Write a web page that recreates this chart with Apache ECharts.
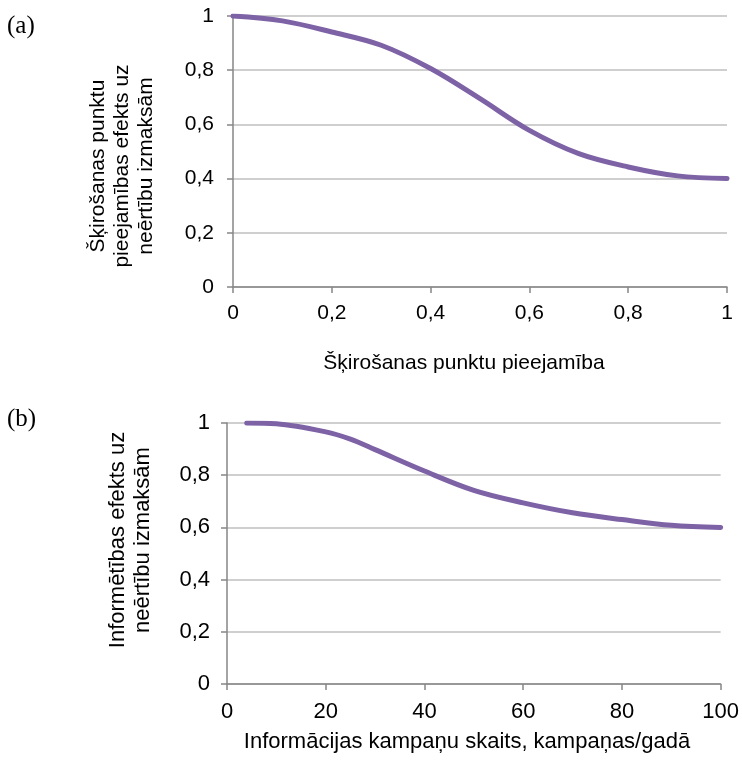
<!DOCTYPE html>
<html>
<head>
<meta charset="utf-8">
<script src="https://cdn.jsdelivr.net/npm/echarts@6/dist/echarts.min.js"></script>
<style>
html,body{margin:0;padding:0;background:#fff;}
#c{width:742px;height:763px;}
</style>
</head>
<body>
<div id="c"></div>
<script>
// Chart (a)
const xA = [0, 0.1, 0.2, 0.3, 0.4, 0.5, 0.6, 0.7, 0.8, 0.9, 1.0];
const yA = [1.0, 0.982, 0.941, 0.892, 0.806, 0.695, 0.578, 0.492, 0.443, 0.410, 0.400];
// Chart (b)
const xB = [4, 10, 20, 25, 30, 40, 50, 60, 70, 80, 90, 100];
const yB = [1.0, 0.997, 0.966, 0.938, 0.898, 0.816, 0.742, 0.694, 0.656, 0.630, 0.608, 0.600];

const titleA_y = 'Šķirošanas punktu\npieejamības efekts uz\nneērtību izmaksām';
const titleA_x = 'Šķirošanas punktu pieejamība';
const titleB_y = 'Informētības efekts uz\nneērtību izmaksām';
const titleB_x = 'Informācijas kampaņu skaits, kampaņas/gadā';

const FONT = '"Liberation Sans", Arial, sans-serif';
const SERIF = '"Liberation Serif", "Times New Roman", serif';
const axisGray = '#868686';
const gridGray = '#BFBFBF';
const lineColor = '#7E62A6';
const fsA = 21;
const fsB = 22;
const comma = v => String(v).replace('.', ',');

function xAxisCfg(gi, min, max, interval, fmt, fs, margin) {
  return {
    type: 'value', gridIndex: gi, min: min, max: max, interval: interval,
    axisLine: {show: true, onZero: false, lineStyle: {color: axisGray, width: 1.5}},
    axisTick: {show: true, inside: false, length: 6, lineStyle: {color: axisGray, width: 1.5}},
    splitLine: {show: false},
    axisLabel: {color: '#000', fontSize: fs, fontFamily: FONT, margin: margin, formatter: fmt}
  };
}
function yAxisCfg(gi, fs, margin) {
  return {
    type: 'value', gridIndex: gi, min: 0, max: 1, interval: 0.2,
    axisLine: {show: true, onZero: false, lineStyle: {color: axisGray, width: 1.5}},
    axisTick: {show: true, inside: false, length: 6, lineStyle: {color: axisGray, width: 1.5}},
    splitLine: {show: true, lineStyle: {color: gridGray, width: 1.5}},
    axisLabel: {color: '#000', fontSize: fs, fontFamily: FONT, margin: margin, formatter: v => comma(v)}
  };
}

const chart = echarts.init(document.getElementById('c'), null, {renderer: 'canvas'});
chart.setOption({
  animation: false,
  backgroundColor: '#fff',
  grid: [
    {left: 233, top: 16, right: 15, height: 271},
    {left: 227, top: 423, right: 19, height: 261}
  ],
  xAxis: [
    xAxisCfg(0, 0, 1, 0.2, v => comma(v), fsA, 16),
    xAxisCfg(1, 0, 100, 20, v => String(v), fsB, 17)
  ],
  yAxis: [
    yAxisCfg(0, fsA, 19),
    yAxisCfg(1, fsB, 17)
  ],
  series: [
    {
      type: 'line', xAxisIndex: 0, yAxisIndex: 0, showSymbol: false, smooth: 0.35,
      data: xA.map((x, i) => [x, yA[i]]),
      lineStyle: {color: lineColor, width: 5, cap: 'round', join: 'round'}
    },
    {
      type: 'line', xAxisIndex: 1, yAxisIndex: 1, showSymbol: false, smooth: 0.35,
      data: xB.map((x, i) => [x, yB[i]]),
      lineStyle: {color: lineColor, width: 5, cap: 'round', join: 'round'}
    }
  ],
  graphic: [
    {type: 'text', x: 7, y: 26, style: {text: '(a)', font: '25px ' + SERIF, fill: '#000', align: 'left', verticalAlign: 'middle'}},
    {type: 'text', x: 7, y: 419, style: {text: '(b)', font: '25px ' + SERIF, fill: '#000', align: 'left', verticalAlign: 'middle'}},
    {type: 'text', x: 122, y: 166, rotation: Math.PI / 2, style: {text: titleA_y, font: fsA + 'px ' + FONT, fill: '#000', align: 'center', verticalAlign: 'middle', lineHeight: 24}},
    {type: 'text', x: 464, y: 363, style: {text: titleA_x, font: fsA + 'px ' + FONT, fill: '#000', align: 'center', verticalAlign: 'middle'}},
    {type: 'text', x: 130, y: 540, rotation: Math.PI / 2, style: {text: titleB_y, font: fsB + 'px ' + FONT, fill: '#000', align: 'center', verticalAlign: 'middle', lineHeight: 25}},
    {type: 'text', x: 467, y: 742, style: {text: titleB_x, font: fsB + 'px ' + FONT, fill: '#000', align: 'center', verticalAlign: 'middle'}}
  ]
});
</script>
</body>
</html>
